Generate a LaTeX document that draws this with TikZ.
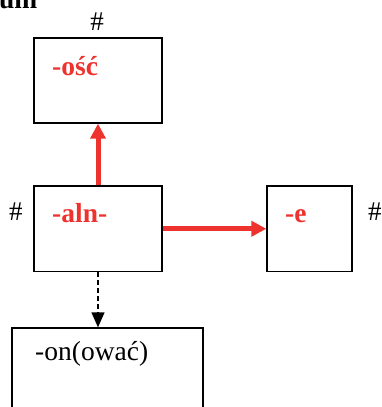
\documentclass[tikz,border=0pt]{standalone}
\usepackage{fontspec}
\setmainfont{Liberation Serif}
\usetikzlibrary{arrows.meta}
\definecolor{redc}{RGB}{238,50,45}
\tikzset{
  box/.style={draw=black, line width=1.3pt, inner sep=0pt},
  lblb/.style={inner sep=0pt, anchor=base west, font=\fontsize{27.5}{30}\selectfont\bfseries},
  lblr/.style={inner sep=0pt, anchor=base west, font=\fontsize{27.5}{30}\selectfont},
  hashlbl/.style={inner sep=0pt, font=\fontsize{27}{30}\selectfont},
  redarrow/.style={draw=redc, line width=5pt, -{Triangle[length=15pt,width=15pt]}},
  dasharrow/.style={draw=black, line width=1.3pt, dash pattern=on 5pt off 3pt, -{Triangle[length=15pt,width=13pt]}}
}
\begin{document}
\begin{tikzpicture}[x=1pt,y=-1pt]
\useasboundingbox (0,0) rectangle (381,407);
\clip (0,0) rectangle (381,407);
\node[box, minimum width=128pt, minimum height=85pt] (b1) at (98,80.5) {};
\node[box, minimum width=128pt, minimum height=85.5pt] (b2) at (98,228.75) {};
\node[box, minimum width=85pt, minimum height=85.5pt] (b3) at (309.5,228.75) {};
\node[box, minimum width=191pt, minimum height=122pt] (b4) at (107.5,389) {};
\node[lblb, text=black] (um) at (-1,8) {um};
\node[lblb, text=redc] (t1) at (52,75) {-ość};
\node[lblb, text=redc] (t2) at (52,222) {-aln-};
\node[lblb, text=redc] (t3) at (285,222) {-e};
\node[lblr] (t4) at (35,360) {-on(ować)};
\node[hashlbl, anchor=base] (h1) at (97,30) {\#};
\node[hashlbl, anchor=base west] (h2) at (9,220) {\#};
\node[hashlbl, anchor=base west] (h3) at (368,220) {\#};
\draw[redarrow] (b2.north) -- (b1.south);
\draw[redarrow] (b2.east) -- (b3.west);
\draw[dasharrow] (b2.south) -- (b2.south |- b4.north);
\end{tikzpicture}
\end{document}
